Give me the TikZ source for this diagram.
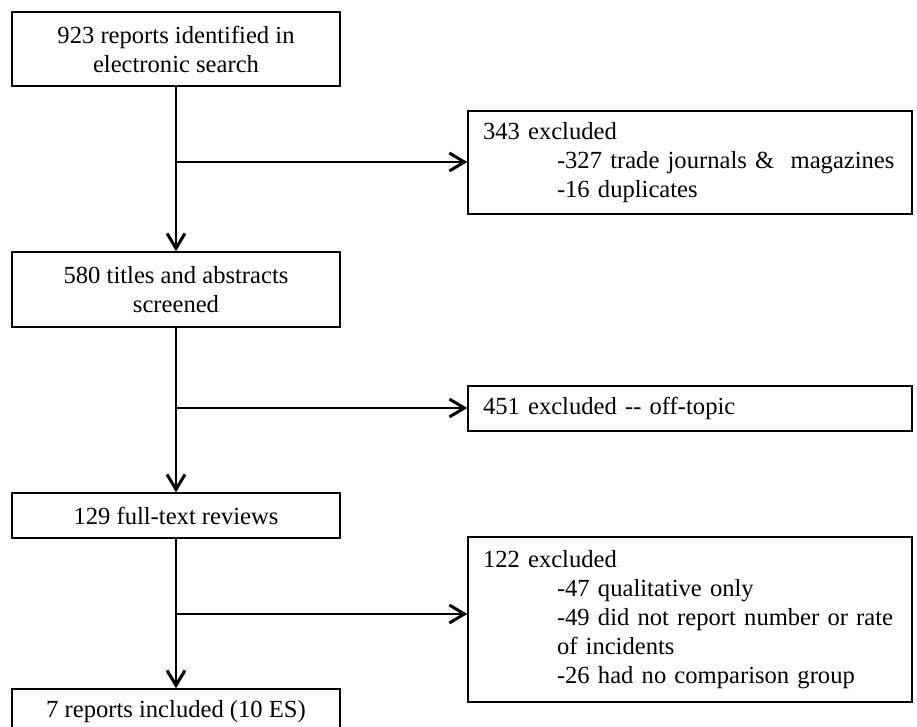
\documentclass[tikz,border=0pt]{standalone}
\usepackage{fontspec}
\setmainfont{Liberation Serif}
\usetikzlibrary{arrows.meta}
\begin{document}
\begin{tikzpicture}[x=0.5pt,y=-0.5pt,
  box/.style={draw, line width=0.7pt, inner sep=0pt, font=\fontsize{12.3}{14.5}\selectfont},
  cbox/.style={box, minimum width=164pt, align=center},
  lbox/.style={box, minimum width=222pt, text width=207pt, align=left},
  arr/.style={line width=0.7pt, -{Straight Barb[length=7.5pt,width=9pt,line width=1.5pt]}}]
\useasboundingbox (0,0) rectangle (917,727);
\clip (0,0) rectangle (917,727);
\node[cbox, minimum height=37pt] (A) at (176,49) {923 reports identified in\\electronic search};
\node[lbox, minimum height=51.5pt] (B) at (690,162.5) {343 excluded\\\hspace*{37pt}-327 trade journals \&\ \ magazines\\\hspace*{37pt}-16 duplicates};
\node[cbox, minimum height=37.5pt] (C) at (176,289.5) {580 titles and abstracts\\screened};
\node[lbox, minimum height=22.5pt] (D) at (690,408.5) {451 excluded {-}{-} off-topic};
\node[cbox, minimum height=22.5pt] (E) at (176,515.5) {129 full-text reviews};
\node[lbox, minimum height=82.5pt] (F) at (690,619.5) {122 excluded\\\hspace*{37pt}-47 qualitative only\\\hspace*{37pt}-49 did not report number or rate\\\hspace*{37pt}of incidents\\\hspace*{37pt}-26 had no comparison group};
\node[cbox, minimum height=22.5pt] (G) at (176,711.5) {7 reports included (10 ES)};
\draw[arr] (A) -- (C);
\coordinate (j1) at (176,162);
\draw[arr] (j1) -- (B.west |- j1);
\draw[arr] (C) -- (E);
\coordinate (j2) at (176,408);
\draw[arr] (j2) -- (D.west |- j2);
\draw[arr] (E) -- (G);
\coordinate (j3) at (176,614);
\draw[arr] (j3) -- (F.west |- j3);
\end{tikzpicture}
\end{document}
